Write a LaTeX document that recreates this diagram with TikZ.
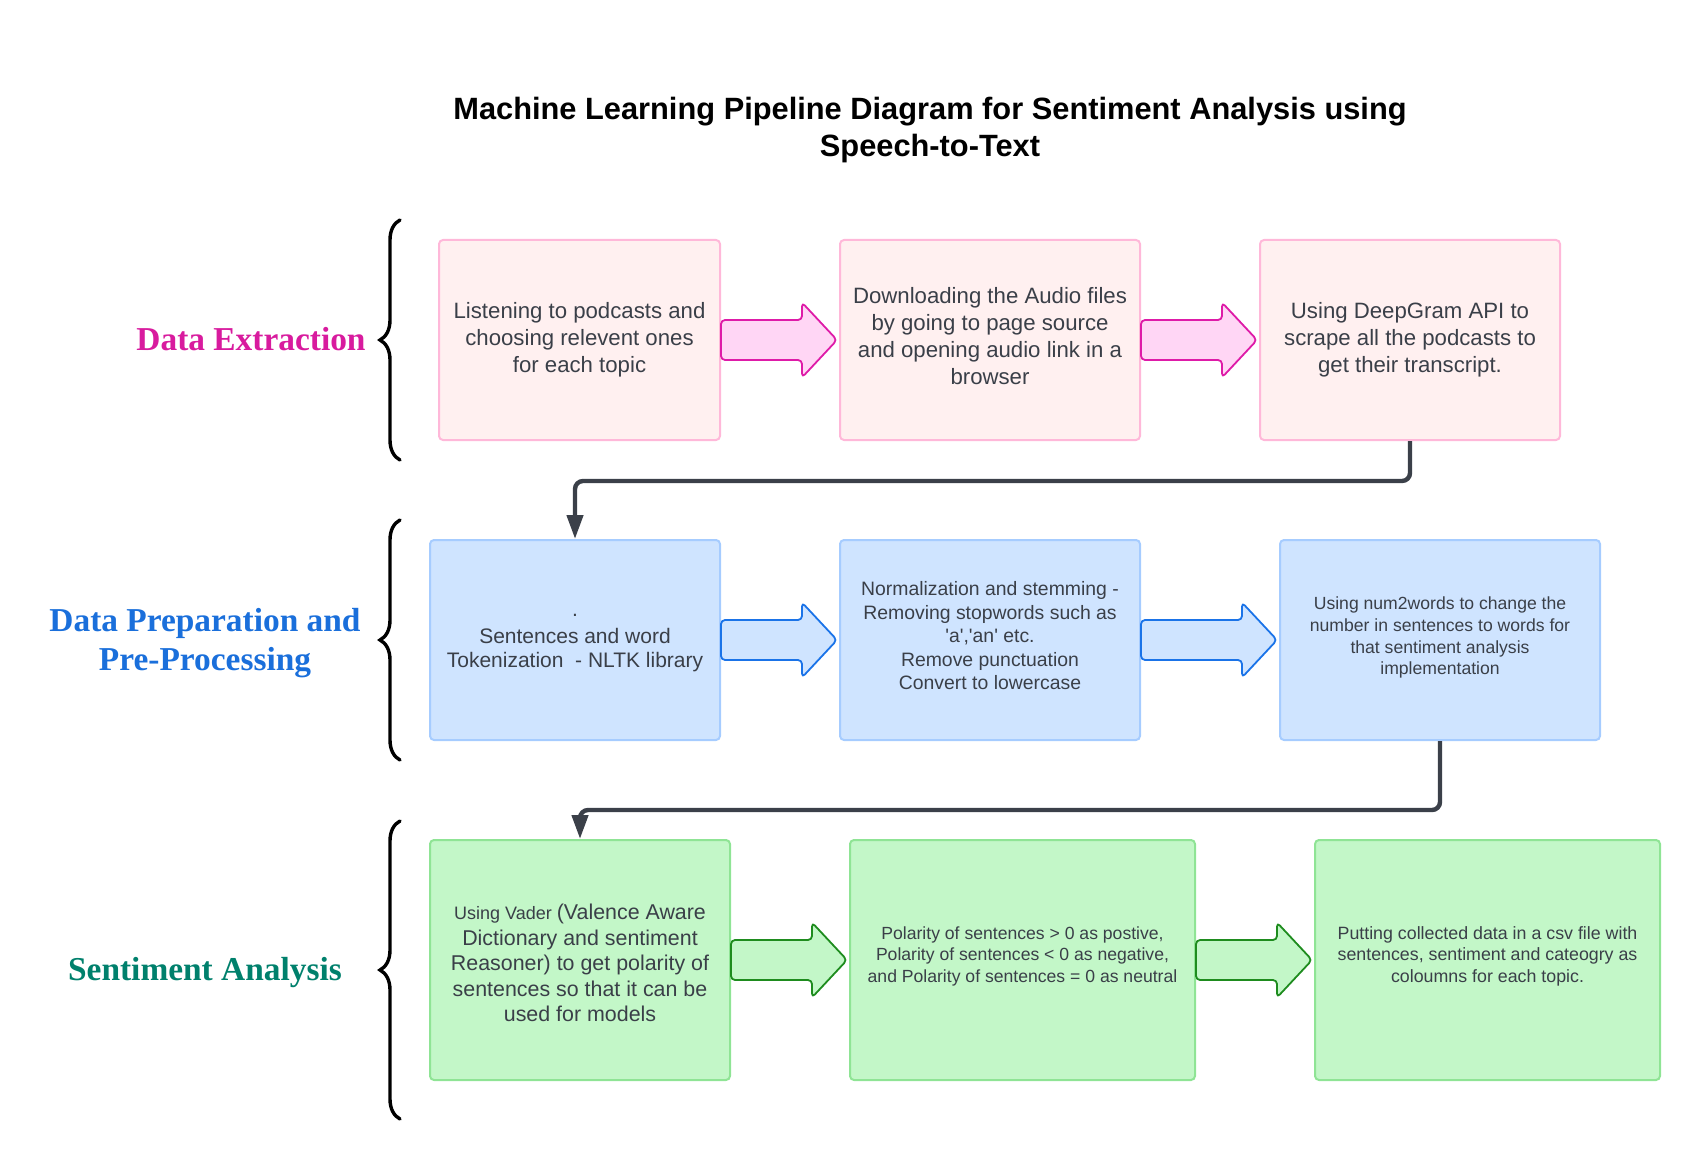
\documentclass[tikz,border=0pt]{standalone}
\usepackage{fontspec}
\setmainfont{Liberation Sans}
\newfontfamily\lblfont{Liberation Serif}
\usetikzlibrary{calc,arrows.meta,decorations.pathreplacing}
\definecolor{txt}{HTML}{3A3F48}
\definecolor{conn}{HTML}{3B4049}
\definecolor{pinkF}{HTML}{FFF0F0}
\definecolor{pinkB}{HTML}{FFB8D9}
\definecolor{pinkAF}{HTML}{FFD6F5}
\definecolor{pinkAS}{HTML}{DE1BA8}
\definecolor{blueF}{HTML}{CFE4FF}
\definecolor{blueB}{HTML}{A6CCFF}
\definecolor{blueAS}{HTML}{1A73E8}
\definecolor{greenF}{HTML}{C3F7C8}
\definecolor{greenB}{HTML}{8FE495}
\definecolor{greenAS}{HTML}{1E8C1E}
\definecolor{lblPink}{HTML}{D81B9E}
\definecolor{lblBlue}{HTML}{1A6FDB}
\definecolor{lblGreen}{HTML}{00806C}
\newcommand\blockarrow[3]{%
  \path[#3] let \p1=(#1.east), \p2=(#2.west) in
    (\x1,\y1+10pt) -- (\x2-18.5pt,\y1+10pt) -- (\x2-18.5pt,\y1+18.75pt) --
    (\x2-1pt,\y1) -- (\x2-18.5pt,\y1-18.75pt) -- (\x2-18.5pt,\y1-10pt) --
    (\x1,\y1-10pt) -- cycle;}
\tikzset{
  box/.style={line width=1pt, rounded corners=2pt, inner sep=0pt},
  pinkbox/.style={box, draw=pinkB, fill=pinkF},
  bluebox/.style={box, draw=blueB, fill=blueF},
  greenbox/.style={box, draw=greenB, fill=greenF},
  btext/.style={text=txt, align=center, inner sep=0pt},
  barrow/.style={line width=0.9pt, rounded corners=2pt, line join=round},
  pinkarrow/.style={barrow, draw=pinkAS, fill=pinkAF},
  bluearrow/.style={barrow, draw=blueAS, fill=blueF},
  greenarrow/.style={barrow, draw=greenAS, fill=greenF},
  flow/.style={draw=conn, line width=2.2pt, rounded corners=4pt, -{Triangle[length=12pt,width=8pt]}},
  bracestyle/.style={draw=black, decorate, decoration={brace, amplitude=10pt}, line width=1.7pt, line cap=round},
  lbl/.style={font=\lblfont\bfseries\fontsize{16.7}{19.5}\selectfont, align=center},
  fA/.style={font=\fontsize{11.1}{13.5}\selectfont},
}
\begin{document}
\begin{tikzpicture}[x=0.5pt,y=-0.5pt]
\useasboundingbox (0,0) rectangle (1700,1160);
% title
\node[font=\bfseries\fontsize{15.4}{18.5}\selectfont, align=center, text=black] (title) at (930,130)
  {Machine Learning Pipeline Diagram for Sentiment Analysis using\\Speech-to-Text};
% labels
\node[lbl, text=lblPink] (l1) at (251,339) {Data Extraction};
\node[lbl, text=lblBlue] (l2) at (205,643.5) {Data Preparation and\\Pre-Processing};
\node[lbl, text=lblGreen] (l3) at (205,973) {Sentiment Analysis};
% braces
\coordinate (br1b) at (400,460); \coordinate (br1t) at (400,220);
\coordinate (br2b) at (400,760); \coordinate (br2t) at (400,520);
\coordinate (br3b) at (400,1119); \coordinate (br3t) at (400,821);
\draw[bracestyle] (br1b) -- (br1t);
\draw[bracestyle] (br2b) -- (br2t);
\draw[bracestyle] (br3b) -- (br3t);
% row 1
\node[pinkbox, minimum width=140.5pt, minimum height=100pt] (b1) at (579.5,340) {};
\node[pinkbox, minimum width=150pt, minimum height=100pt] (b2) at (990,340) {};
\node[pinkbox, minimum width=150pt, minimum height=100pt] (b3) at (1410,340) {};
\node[btext, fA] (t1) at (b1) {Listening to podcasts and\\choosing relevent ones\\for each topic};
\node[btext, fA] (t2) at ($(b2)+(0,-4.3)$) {Downloading the Audio files\\by going to page source\\and opening audio link in a\\browser};
\node[btext, fA] (t3) at (b3) {Using DeepGram API to\\scrape all the podcasts to\\get their transcript.};
% row 2
\node[bluebox, minimum width=145pt, minimum height=100pt] (b4) at (575,640) {};
\node[bluebox, minimum width=150pt, minimum height=100pt] (b5) at (990,640) {};
\node[bluebox, minimum width=160pt, minimum height=100pt] (b6) at (1440,640) {};
\node[btext, font=\fontsize{10.5}{12.2}\selectfont] (t4) at ($(b4)+(0,2.9)$)
  {.\\[1.3pt]Sentences and word\\Tokenization\ \ - NLTK library};
\node[btext, font=\fontsize{9.7}{11.8}\selectfont] (t5) at ($(b5)+(0,-4.3)$)
  {Normalization and stemming -\\Removing stopwords such as\\\textquotesingle a\textquotesingle,\textquotesingle an\textquotesingle{} etc.\\Remove punctuation\\Convert to lowercase};
\node[btext, font=\fontsize{8.8}{10.85}\selectfont] (t6) at ($(b6)+(0,-2.2)$)
  {Using num2words to change the\\number in sentences to words for\\that sentiment analysis\\implementation};
% row 3
\node[greenbox, minimum width=150pt, minimum height=120pt] (b7) at (580,960) {};
\node[greenbox, minimum width=172.5pt, minimum height=120pt] (b8) at (1022.5,960) {};
\node[greenbox, minimum width=172.5pt, minimum height=120pt] (b9) at (1487.5,960) {};
\node[btext, font=\fontsize{10.7}{12.75}\selectfont] (t7) at ($(b7)+(0,3.3)$)
  {{\fontsize{9}{12.75}\selectfont Using Vader }(Valence Aware\\Dictionary and sentiment\\Reasoner) to get polarity of\\sentences so that it can be\\used for models};
\node[btext, font=\fontsize{8.8}{10.85}\selectfont] (t8) at ($(b8)+(0,-3.8)$)
  {Polarity of sentences > 0 as postive,\\Polarity of sentences < 0 as negative,\\and Polarity of sentences = 0 as neutral};
\node[btext, font=\fontsize{8.9}{10.85}\selectfont] (t9) at ($(b9)+(0,-3.8)$)
  {Putting collected data in a csv file with\\sentences, sentiment and cateogry as\\coloumns for each topic.};
% block arrows
\blockarrow{b1}{b2}{pinkarrow}
\blockarrow{b2}{b3}{pinkarrow}
\blockarrow{b4}{b5}{bluearrow}
\blockarrow{b5}{b6}{bluearrow}
\blockarrow{b7}{b8}{greenarrow}
\blockarrow{b8}{b9}{greenarrow}
% connectors
\draw[flow] (b3.south) -- ++(0,40) -| (b4.north);
\draw[flow] (b6.south) -- ++(0,69) -| (b7.north);
\end{tikzpicture}
\end{document}
